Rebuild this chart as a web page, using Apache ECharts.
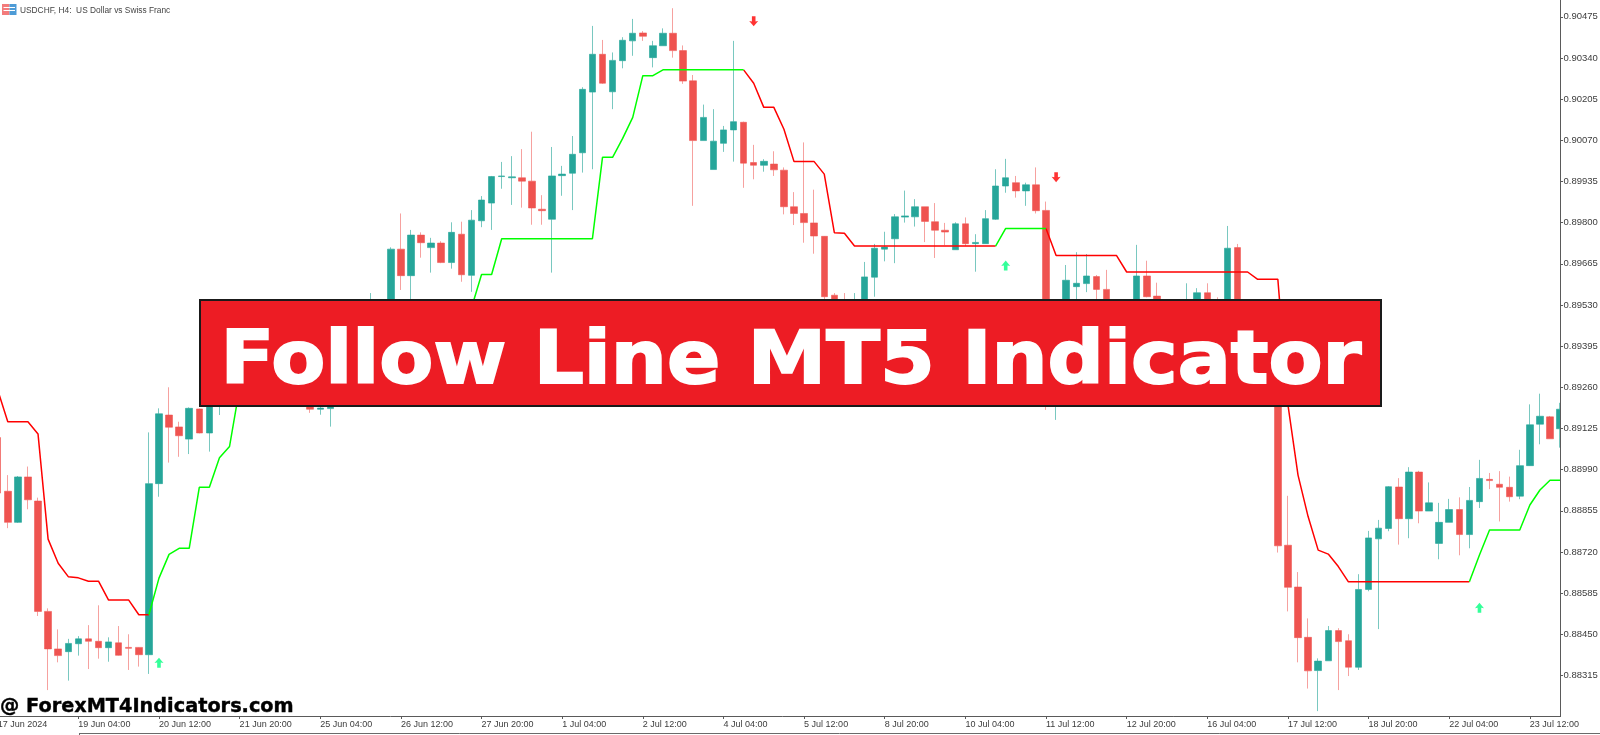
<!DOCTYPE html>
<html>
<head>
<meta charset="utf-8">
<style>html,body{margin:0;padding:0;background:#fff}#c{width:1600px;height:735px}</style>
<script src="https://cdn.jsdelivr.net/npm/echarts@6/dist/echarts.min.js"></script>
</head>
<body>
<div id="c"></div>
<script>
// Prices in points (1 point = 0.00001)
const tickLabels = ['17 Jun 2024','19 Jun 04:00','20 Jun 12:00','21 Jun 20:00','25 Jun 04:00','26 Jun 12:00','27 Jun 20:00','1 Jul 04:00','2 Jul 12:00','4 Jul 04:00','5 Jul 12:00','8 Jul 20:00','10 Jul 04:00','11 Jul 12:00','12 Jul 20:00','16 Jul 04:00','17 Jul 12:00','18 Jul 20:00','22 Jul 04:00','23 Jul 12:00'];
const priceTicks = [88315,88450,88585,88720,88855,88990,89125,89260,89395,89530,89665,89800,89935,90070,90205,90340,90475];
const opens = [89095,88919,88817,88966,88887,88525,88402,88393,88419,88435,
88427,88406,88422,88407,88407,88383,88944,89169,89130,89090,
89189,89110,89244,89300,89290,89350,89300,89267,89317,89251,
89290,89235,89188,89190,89267,89350,89310,89415,89497,89448,
89713,89626,89759,89718,89733,89669,89762,89627,89806,89864,
89951,89947,89947,89936,89844,89811,89954,89962,90029,90228,
90352,90229,90331,90396,90422,90341,90380,90421,90364,90265,
90069,89974,90060,90104,90129,89997,89988,89992,89972,89852,
89830,89799,89755,89562,89513,89448,89487,89621,89713,89747,
89818,89819,89852,89803,89775,89711,89796,89731,89731,89811,
89920,89931,89904,89924,89840,89284,89481,89590,89600,89623,
89581,89513,89481,89448,89625,89559,89513,89530,89497,89530,
89570,89530,89481,89718,89415,89399,89350,89415,88742,88605,
88440,88331,88363,88462,88429,88342,88597,88763,88797,88933,
88829,88982,88854,88748,88817,88859,88777,88885,88958,88942,
88932,88903,89003,89139,89163,89124];
const closes = [88913,88817,88966,88891,88525,88402,88380,88420,88435,88427,
88406,88425,88381,88404,88383,88944,89173,89129,89101,89191,
89110,89267,89300,89251,89350,89300,89267,89317,89251,89290,
89235,89188,89192,89267,89350,89310,89415,89497,89448,89713,
89626,89759,89734,89733,89669,89768,89629,89808,89874,89951,
89953,89950,89936,89848,89839,89953,89959,90024,90237,90352,
90257,90332,90398,90421,90411,90380,90421,90364,90264,90069,
90145,90067,90104,90131,89995,89988,90001,89973,89852,89830,
89800,89756,89557,89513,89448,89497,89622,89716,89720,89819,
89822,89852,89804,89775,89769,89796,89731,89735,89813,89920,
89947,89904,89924,89839,89218,89415,89611,89601,89625,89581,
89513,89481,89448,89625,89557,89513,89530,89497,89546,89570,
89530,89481,89716,89415,89350,89350,89415,88740,88604,88439,
88330,88362,88462,88426,88342,88597,88766,88798,88934,88829,
88982,88854,88881,88817,88859,88777,88889,88961,88954,88932,
88901,89003,89137,89165,89091,89188];
const lows = [88907,88798,88815,88860,88510,88267,88358,88298,88380,88336,
88370,88360,88380,88333,88344,88320,88901,89013,89032,89041,
89109,89049,89169,89218,89251,89267,89235,89235,89225,89225,
89212,89176,89170,89131,89235,89284,89284,89382,89415,89415,
89579,89530,89685,89636,89667,89649,89606,89573,89785,89776,
89911,89858,89849,89793,89793,89636,89888,89841,89964,89975,
90255,90172,90306,90347,90396,90309,90380,90341,90255,89855,
90069,89974,90032,90000,89914,89942,89967,89953,89827,89792,
89734,89698,89546,89481,89422,89415,89464,89557,89673,89667,
89800,89787,89736,89684,89726,89711,89724,89639,89731,89809,
89898,89882,89855,89830,89186,89153,89448,89448,89572,89530,
89481,89448,89415,89422,89555,89487,89481,89474,89474,89507,
89507,89454,89448,89399,89317,89317,89323,88718,88525,88358,
88272,88198,88363,88267,88313,88333,88591,88467,88788,88744,
88765,88814,88854,88696,88817,88709,88732,88864,88926,88820,
88885,88893,89002,89073,89091,89062];
const highs = [89104,88972,88969,89000,88898,88535,88466,88435,88444,88480,
88545,88440,88477,88450,88408,89112,89191,89260,89147,89194,
89190,89300,89350,89333,89382,89382,89333,89350,89343,89317,
89317,89267,89218,89290,89382,89382,89448,89569,89530,89719,
89830,89776,89768,89750,89739,89801,89803,89841,89887,89953,
89999,90018,90041,90098,89890,90048,89986,90084,90244,90445,
90399,90358,90408,90468,90428,90396,90437,90503,90381,90284,
90187,90172,90117,90396,90131,90055,90008,90034,89981,89900,
90063,89908,89756,89569,89569,89569,89671,89730,89770,89828,
89905,89877,89852,89864,89799,89801,89817,89762,89841,89975,
90009,89953,89931,89981,89869,89481,89661,89703,89697,89628,
89645,89540,89530,89727,89675,89603,89546,89546,89601,89585,
89601,89555,89789,89730,89431,89422,89448,89441,88904,88654,
88502,88371,88477,88470,88450,88647,88789,88825,88936,88962,
88998,88986,88948,88881,88894,88899,88933,89022,88979,88985,
88967,89055,89204,89239,89166,89209];
const followLine = [89251,89147,89147,89147,89107,88762,88683,88639,88635,88624,
88624,88562,88562,88562,88514,88514,88634,88712,88732,88732,
88932,88932,89029,89066,89258,89317,89350,89376,89376,89399,
89399,89415,89415,89415,89431,89431,89431,89448,89448,89464,
89464,89464,89481,89481,89497,89497,89507,89520,89630,89630,
89747,89747,89747,89747,89747,89747,89747,89747,89747,89747,
90014,90014,90076,90145,90282,90282,90301,90301,90301,90301,
90301,90301,90301,90301,90301,90257,90178,90178,90106,90000,
90000,90000,89959,89767,89765,89723,89723,89723,89723,89723,
89723,89723,89723,89723,89723,89723,89723,89723,89723,89723,
89781,89781,89781,89781,89781,89692,89692,89692,89692,89692,
89692,89692,89638,89638,89638,89638,89638,89638,89638,89638,
89638,89638,89638,89638,89638,89614,89614,89614,89202,88972,
88836,88726,88713,88672,88622,88622,88622,88622,88622,88622,
88622,88622,88622,88622,88622,88622,88622,88710,88792,88792,
88792,88792,88874,88923,88955,88955];
const upTrendRanges = [[15,74],[99,104],[146,155]];
const upArrows = [[16,88357],[100,89659],[147,88537]];
const downArrows = [[75,90460],[105,89949]];

const categories = opens.map((_, i) => i % 8 === 0 ? tickLabels[i / 8] : '·' + i);
const isUp = i => upTrendRanges.some(r => i >= r[0] && i <= r[1]);
const isDown = i => !upTrendRanges.some(r => i > r[0] && i < r[1]) && i !== 155;
const candles = opens.map((o, i) => [o, closes[i], lows[i], highs[i]]);
const arrowUp = 'path://M5 0 L10 6 L7 5.4 L7 11 L3 11 L3 5.4 L0 6 Z';

const AX = '#5a5a5a', TXT = '#3c3c3c';
const LBL = 'Liberation Sans';
const chart = echarts.init(document.getElementById('c'), null, {renderer: 'canvas'});
chart.setOption({
  animation: false,
  backgroundColor: '#fff',
  grid: {left: -7.34, width: 1572.48, top: 0, height: 716, containLabel: false, outerBoundsMode: 'none'},
  xAxis: {
    type: 'category', data: categories, boundaryGap: true, z: 10,
    axisLine: {show: true, lineStyle: {color: AX, width: 1}},
    axisTick: {show: true, alignWithLabel: true, interval: 7, length: 3, lineStyle: {color: AX}},
    axisLabel: {interval: 7, align: 'left', margin: 4, color: TXT, fontSize: 9, fontFamily: LBL, hideOverlap: false},
    splitLine: {show: false}
  },
  yAxis: {
    type: 'value', position: 'right', offset: -5.14, min: 88182, max: 90530, z: 10, scale: true,
    axisLine: {show: true, onZero: false, lineStyle: {color: AX, width: 1}},
    axisTick: {show: true, length: 3, customValues: priceTicks, lineStyle: {color: AX}},
    axisLabel: {customValues: priceTicks, margin: 3.5, color: TXT, fontSize: 9.5, fontFamily: LBL, formatter: v => (v / 1e5).toFixed(5)},
    splitLine: {show: false}
  },
  series: [
    {type: 'candlestick', data: candles, barWidth: 7, z: 2,
      itemStyle: {color: '#26a69a', color0: '#ef5350', borderColor: 'rgba(38,166,154,0.62)', borderColor0: 'rgba(239,83,80,0.55)', borderWidth: 1}},
    {type: 'line', data: followLine.map((v, i) => isDown(i) ? v : null), symbol: 'none', z: 3, lineStyle: {color: '#ff0000', width: 1.5}},
    {type: 'line', data: followLine.map((v, i) => isUp(i) ? v : null), symbol: 'none', z: 3, lineStyle: {color: '#00ff00', width: 1.5}},
    {type: 'scatter', data: upArrows, symbol: arrowUp, symbolSize: [9, 10], z: 4, itemStyle: {color: '#00ff7f'}},
    {type: 'scatter', data: downArrows, symbol: arrowUp, symbolRotate: 180, symbolSize: [9, 10], z: 4, itemStyle: {color: '#ff0000'}}
  ],
  graphic: {elements: [
    {type: 'rect', silent: true, z: 5, shape: {x: 1560.5, y: 0, width: 40, height: 716}, style: {fill: '#fff'}},
    {type: 'rect', silent: true, z: 20, shape: {x: 1561, y: 714, width: 40, height: 3.5}, style: {fill: '#fff'}},
    {type: 'line', silent: true, z: 20, shape: {x1: 79, y1: 733.5, x2: 1600, y2: 733.5}, style: {stroke: '#6a6a6a', lineWidth: 1}},
    {type: 'line', silent: true, z: 20, shape: {x1: 79.5, y1: 733, x2: 79.5, y2: 735}, style: {stroke: '#6a6a6a', lineWidth: 1}},
    {type: 'rect', silent: true, z: 30, shape: {x: 2, y: 4, width: 7.5, height: 11}, style: {fill: '#f37b7b'}},
    {type: 'rect', silent: true, z: 30, shape: {x: 9.5, y: 4, width: 7, height: 11}, style: {fill: '#4d9bd6'}},
    {type: 'line', silent: true, z: 31, shape: {x1: 3.5, y1: 7.5, x2: 15, y2: 7.5}, style: {stroke: '#fff', lineWidth: 1}},
    {type: 'line', silent: true, z: 31, shape: {x1: 3.5, y1: 10.5, x2: 15, y2: 10.5}, style: {stroke: '#fff', lineWidth: 1}},
    {type: 'text', silent: true, z: 30, x: 20, y: 10, scaleX: 0.87, style: {text: 'USDCHF, H4:  US Dollar vs Swiss Franc', fill: '#444', font: '9.6px "Liberation Sans"', verticalAlign: 'middle', align: 'left'}},
    {type: 'rect', silent: true, z: 100, shape: {x: 200, y: 300, width: 1181, height: 106}, style: {fill: '#ed1c24', stroke: '#1a1a1a', lineWidth: 2}},
    {type: 'text', silent: true, z: 101, x: 791, y: 364, scaleX: 1.01, scaleY: 0.94, style: {text: 'Follow Line MT5 Indicator', fill: '#fff', stroke: '#fff', lineWidth: 2, font: 'bold 78px "DejaVu Sans"', align: 'center', verticalAlign: 'middle'}},
    {type: 'text', silent: true, z: 101, x: 0, y: 707, style: {text: '@ ForexMT4Indicators.com', fill: '#000', stroke: '#000', lineWidth: 0.4, font: 'bold 19.3px "DejaVu Sans"', align: 'left', verticalAlign: 'middle'}}
  ]}
});
</script>
</body>
</html>
